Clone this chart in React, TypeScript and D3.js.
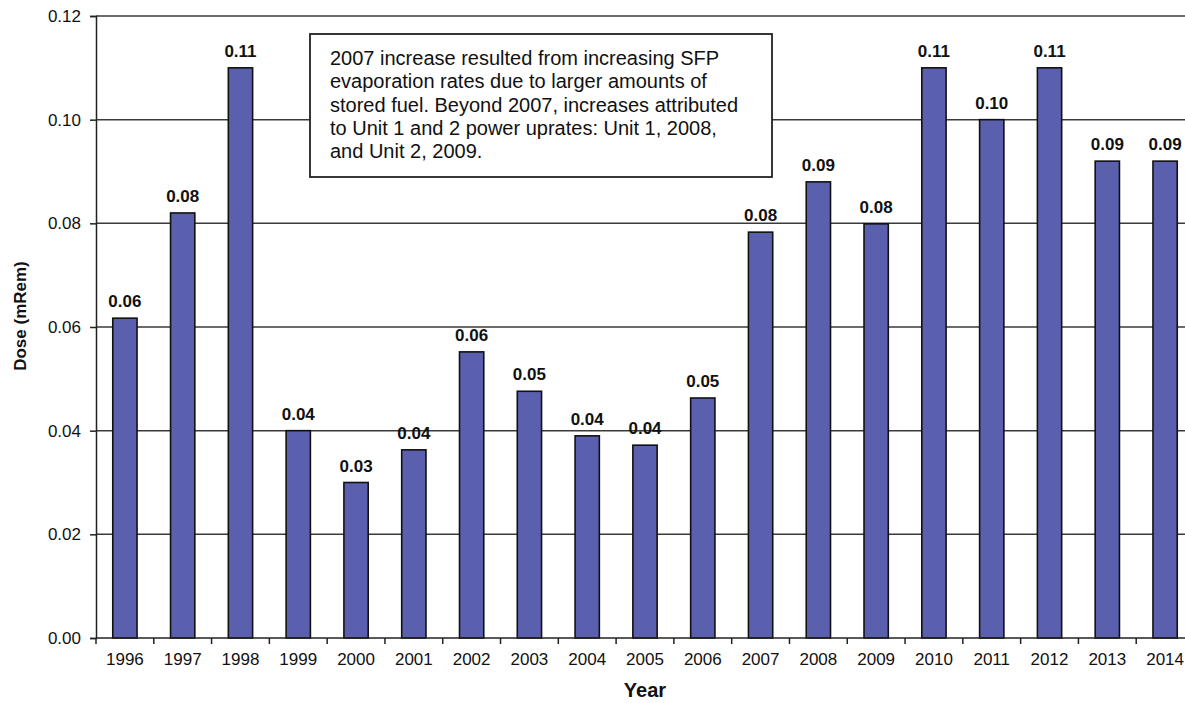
import { useEffect, useRef } from 'react';
import * as d3 from "d3";

const years = ["1996", "1997", "1998", "1999", "2000", "2001", "2002", "2003", "2004", "2005",
  "2006", "2007", "2008", "2009", "2010", "2011", "2012", "2013", "2014"];
const dose = [0.0617, 0.082, 0.110, 0.040, 0.030, 0.0363, 0.0552, 0.0476, 0.039, 0.0372,
  0.0463, 0.0783, 0.088, 0.0799, 0.110, 0.100, 0.110, 0.092, 0.092];
const yTicks = [0, 0.02, 0.04, 0.06, 0.08, 0.10, 0.12];
const noteLines = [
  "2007 increase resulted from increasing SFP",
  "evaporation rates due to larger amounts of",
  "stored fuel. Beyond 2007, increases attributed",
  "to Unit 1 and 2 power uprates: Unit 1, 2008,",
  "and Unit 2, 2009.",
];

const FONT = "'Liberation Sans', Arial, Helvetica, sans-serif";

export default function App() {
  const chartRef = useRef<SVGSVGElement>(null);

  useEffect(() => {
    if (!chartRef.current) return;
    d3.select(chartRef.current).selectAll("*").remove();

    const width = 1185;
    const height = 703;
    const marginLeft = 96;
    const marginTop = 16;
    const plotBottom = 638;
    const plotRight = 1194; // plot runs off the right edge, as in the scan

    const x = d3.scaleBand()
      .domain(years)
      .range([marginLeft, plotRight])
      .paddingInner(0.58)
      .paddingOuter(0.29);

    const y = d3.scaleLinear()
      .domain([0, 0.12])
      .range([plotBottom, marginTop]);

    const svg = d3.select(chartRef.current)
      .attr("viewBox", [0, 0, width, height])
      .attr("width", width)
      .attr("height", height)
      .style("font-family", FONT);

    svg.append("rect").attr("width", width).attr("height", height).attr("fill", "#fff");

    // Gridlines
    svg.append("g")
      .selectAll("line")
      .data(yTicks.slice(1))
      .join("line")
      .attr("x1", marginLeft)
      .attr("x2", width)
      .attr("y1", d => y(d))
      .attr("y2", d => y(d))
      .attr("stroke", "#3a3a3a")
      .attr("stroke-width", 1.5);

    // Annotation box
    const note = svg.append("g");
    note.append("rect")
      .attr("x", 310)
      .attr("y", 34)
      .attr("width", 462)
      .attr("height", 143)
      .attr("fill", "#fff")
      .attr("stroke", "#222")
      .attr("stroke-width", 1.8);
    note.selectAll("text")
      .data(noteLines)
      .join("text")
      .attr("x", 330)
      .attr("y", (_, i) => 65 + i * 23.3)
      .attr("font-size", 20)
      .attr("fill", "#111")
      .text(d => d);

    // Bars
    svg.append("g")
      .selectAll("rect")
      .data(years)
      .join("rect")
      .attr("x", d => x(d) || 0)
      .attr("y", (_, i) => y(dose[i]))
      .attr("width", x.bandwidth())
      .attr("height", (_, i) => y(0) - y(dose[i]))
      .attr("fill", "#5a60ae")
      .attr("stroke", "#111")
      .attr("stroke-width", 1.6);

    // Value labels
    const fmt = d3.format(".2f");
    svg.append("g")
      .selectAll("text")
      .data(years)
      .join("text")
      .attr("x", d => (x(d) || 0) + x.bandwidth() / 2)
      .attr("y", (_, i) => y(dose[i]) - 11)
      .attr("text-anchor", "middle")
      .attr("font-size", 17)
      .attr("font-weight", "bold")
      .attr("fill", "#111")
      .text((_, i) => fmt(dose[i]));

    // y-axis
    svg.append("g")
      .attr("transform", `translate(${marginLeft},0)`)
      .call(d3.axisLeft(y).tickValues(yTicks).tickFormat(d3.format(".2f")).tickSize(6).tickPadding(9))
      .call(g => g.selectAll("line, path").attr("stroke", "#222").attr("stroke-width", 1.5))
      .call(g => g.selectAll("text").attr("font-size", 17).attr("font-family", FONT).attr("fill", "#111"));

    // x-axis with ticks at band boundaries
    const step = x.step();
    const boundaries = d3.range(years.length + 1).map(i => marginLeft + i * step);
    const xAxis = svg.append("g");
    xAxis.append("line")
      .attr("x1", marginLeft)
      .attr("x2", width)
      .attr("y1", plotBottom)
      .attr("y2", plotBottom)
      .attr("stroke", "#222")
      .attr("stroke-width", 1.5);
    xAxis.selectAll("line.tick")
      .data(boundaries)
      .join("line")
      .attr("class", "tick")
      .attr("x1", d => d)
      .attr("x2", d => d)
      .attr("y1", plotBottom)
      .attr("y2", plotBottom + 6)
      .attr("stroke", "#222")
      .attr("stroke-width", 1.5);
    xAxis.selectAll("text")
      .data(years)
      .join("text")
      .attr("x", d => (x(d) || 0) + x.bandwidth() / 2)
      .attr("y", plotBottom + 27)
      .attr("text-anchor", "middle")
      .attr("font-size", 17)
      .attr("fill", "#111")
      .text(d => d);

    // Axis titles
    svg.append("text")
      .attr("x", 645)
      .attr("y", 697)
      .attr("text-anchor", "middle")
      .attr("font-size", 20)
      .attr("font-weight", "bold")
      .attr("fill", "#111")
      .text("Year");

    svg.append("text")
      .attr("transform", "rotate(-90)")
      .attr("x", -316)
      .attr("y", 26)
      .attr("text-anchor", "middle")
      .attr("font-size", 17)
      .attr("font-weight", "bold")
      .attr("fill", "#111")
      .text("Dose (mRem)");
  }, []);

  return (
    <div style={{ position: "absolute", left: 0, top: 0 }}>
      <svg ref={chartRef} style={{ display: "block" }}></svg>
    </div>
  );
}
